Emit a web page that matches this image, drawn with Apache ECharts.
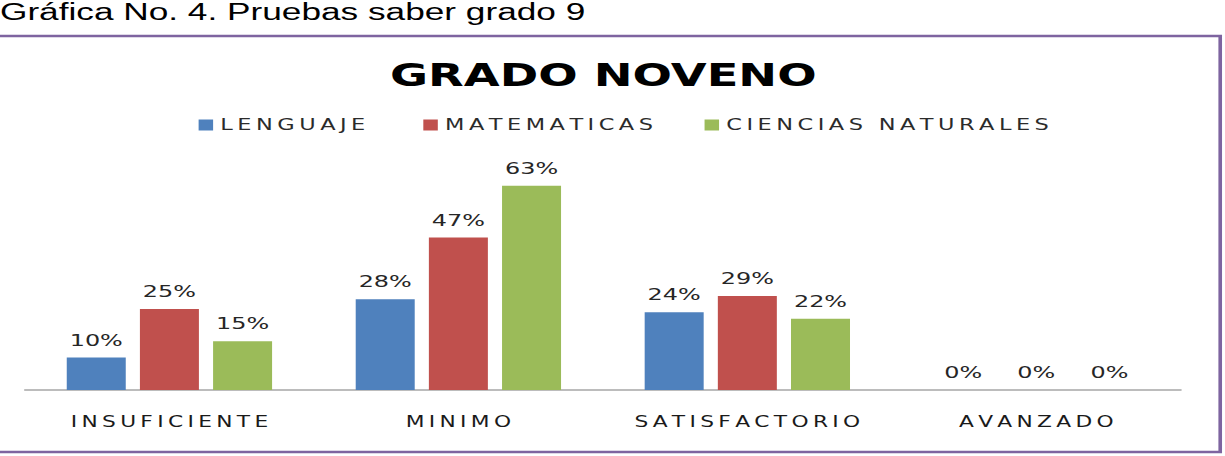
<!DOCTYPE html>
<html>
<head>
<meta charset="utf-8">
<script src="https://cdn.jsdelivr.net/npm/echarts@6/dist/echarts.min.js"></script>
<style>
html,body{margin:0;padding:0;background:#fff;overflow:hidden;}
#wrap{width:1225px;height:456px;overflow:hidden;position:relative;}
#chart{width:845px;height:456px;transform:scaleX(1.449704);transform-origin:0 0;}
</style>
</head>
<body>
<div id="wrap"><div id="chart"></div></div>
<script>
const caption = 'Gráfica No. 4. Pruebas saber grado 9';
const chartTitle = 'GRADO NOVENO';
const categories = ['INSUFICIENTE', 'MINIMO', 'SATISFACTORIO', 'AVANZADO'];
const seriesNames = ['LENGUAJE', 'MATEMATICAS', 'CIENCIAS NATURALES'];
const lenguaje = [10, 28, 24, 0];
const matematicas = [25, 47, 29, 0];
const ciencias = [15, 63, 22, 0];
const colors = ['#4f81bd', '#c0504d', '#9bbb59'];

const spaced = s => s.split(' ').map(w => w.split('').join('\u2009')).join('\u2009\u2002');

const chart = echarts.init(document.getElementById('chart'), null, {renderer: 'svg'});

const labelStyle = {
  show: true,
  position: 'top',
  distance: 9,
  fontFamily: 'DejaVu Sans',
  fontSize: 16.5,
  color: '#262626',
  formatter: p => p.value + '%'
};

const legendLefts = [137, 292, 486];

const option = {
  animation: false,
  backgroundColor: '#ffffff',
  title: [
    {
      text: caption, left: 0, top: 0, padding: 0,
      textStyle: {fontFamily: 'Liberation Sans', fontSize: 24.3, fontWeight: 'normal', color: '#000'}
    },
    {
      text: chartTitle, left: 269, top: 59, padding: 0,
      textStyle: {fontFamily: 'DejaVu Sans', fontSize: 32, fontWeight: 'bold', color: '#000'}
    }
  ],
  legend: seriesNames.map((n, i) => ({
    data: [n],
    left: legendLefts[i],
    top: 117,
    padding: 0,
    icon: 'rect',
    itemWidth: 10,
    itemHeight: 11,
    selectedMode: false,
    textStyle: {fontFamily: 'DejaVu Sans', fontSize: 15.5, color: '#2b2b2b'},
    formatter: name => spaced(name)
  })),
  grid: {left: 17.2, right: 30.5, top: 163, bottom: 66, containLabel: false},
  xAxis: {
    type: 'category',
    data: categories,
    axisLine: {show: true, lineStyle: {color: '#a6a6a6', width: 1.5}},
    axisTick: {show: false},
    axisLabel: {
      interval: 0,
      margin: 24,
      fontFamily: 'DejaVu Sans',
      fontSize: 15,
      color: '#1a1a1a',
      formatter: v => spaced(v)
    }
  },
  yAxis: {
    type: 'value',
    min: 0,
    max: 70,
    show: false,
    splitLine: {show: false}
  },
  graphic: [
    {
      type: 'rect',
      silent: true,
      z: -1,
      shape: {x: -10, y: 36, width: 851.7, height: 416},
      style: {fill: 'none', stroke: '#7e64a0', lineWidth: 2.5}
    }
  ],
  series: [
    {name: seriesNames[0], type: 'bar', data: lenguaje, barWidth: 40.7, barGap: '24%', itemStyle: {color: colors[0]}, label: labelStyle},
    {name: seriesNames[1], type: 'bar', data: matematicas, barWidth: 40.7, barGap: '24%', itemStyle: {color: colors[1]}, label: labelStyle},
    {name: seriesNames[2], type: 'bar', data: ciencias, barWidth: 40.7, barGap: '24%', itemStyle: {color: colors[2]}, label: labelStyle}
  ]
};
chart.setOption(option);
</script>
</body>
</html>
